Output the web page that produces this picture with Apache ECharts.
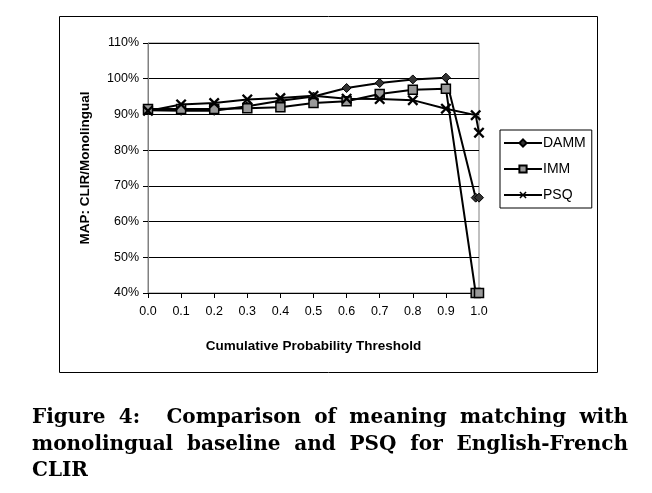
<!DOCTYPE html>
<html>
<head>
<meta charset="utf-8">
<script src="https://cdn.jsdelivr.net/npm/echarts@6/dist/echarts.min.js"></script>
<style>
  html, body { margin: 0; padding: 0; background: #fff; }
  #wrap { position: relative; width: 652px; height: 493px; }
  #chart { position: absolute; left: 0; top: 0; width: 652px; height: 493px; }
  #caption {
    position: absolute; left: 32px; top: 403px; width: 596px;
    font-family: "DejaVu Serif", serif; font-weight: bold; font-size: 20px;
    line-height: 26.5px; color: #000;
  }
  #caption .j { display: block; text-align: justify; text-align-last: justify; white-space: nowrap; }
  #caption .l { display: block; text-align: left; }
</style>
</head>
<body>
<div id="wrap">
  <div id="chart"></div>
  <div id="caption"><span class="j">Figure 4:&nbsp; Comparison of meaning matching with</span><span class="j">monolingual baseline and PSQ for English-French</span><span class="l">CLIR</span></div>
</div>
<script>
const thresholds = [0.0, 0.1, 0.2, 0.3, 0.4, 0.5, 0.6, 0.7, 0.8, 0.9, 0.99, 1.0];
const damm = [91.2, 91.0, 91.0, 92.3, 93.8, 95.0, 97.4, 98.8, 99.8, 100.3, 66.7, 66.7];
const imm  = [91.5, 91.5, 91.5, 91.7, 92.0, 93.2, 93.7, 95.7, 96.9, 97.2, 40.0, 40.0];
const psq  = [91.0, 92.8, 93.2, 94.2, 94.6, 95.2, 94.4, 94.3, 94.0, 91.6, 89.8, 84.9];
const seriesNames = ['DAMM', 'IMM', 'PSQ'];
const xTickLabels = ['0.0','0.1','0.2','0.3','0.4','0.5','0.6','0.7','0.8','0.9','1.0'];

const pairs = arr => thresholds.map((x, i) => [x, arr[i]]);
const xPath = 'path://M0,1.5L1.5,0L5,3.5L8.5,0L10,1.5L6.5,5L10,8.5L8.5,10L5,6.5L1.5,10L0,8.5L3.5,5Z';

const chart = echarts.init(document.getElementById('chart'), null, {renderer: 'canvas'});
const font = '"Liberation Sans", Arial, sans-serif';
chart.setOption({
  animation: false,
  backgroundColor: '#fff',
  grid: { left: 148, right: 173, top: 43, bottom: 200, show: true, borderColor: '#808080', borderWidth: 1 },
  graphic: [{
    type: 'rect', shape: { x: 59.5, y: 16.5, width: 538, height: 356 },
    style: { fill: 'none', stroke: '#000', lineWidth: 1 }, z: -1
  }],
  legend: {
    orient: 'vertical', left: 500, top: 130,
    itemWidth: 38, itemHeight: 9, itemGap: 12,
    borderColor: '#000', borderWidth: 1, padding: [6, 6, 6, 3],
    textStyle: { fontFamily: font, fontSize: 14, color: '#000', padding: [0, 0, 0, -4] },
    data: seriesNames
  },
  xAxis: {
    type: 'value', min: 0, max: 1, interval: 0.1,
    name: 'Cumulative Probability Threshold', nameLocation: 'middle', nameGap: 46,
    nameTextStyle: { fontFamily: font, fontSize: 13.5, fontWeight: 'bold', color: '#000' },
    axisLine: { show: true, lineStyle: { color: '#000', width: 1 } },
    axisTick: { show: true, inside: false, length: 5, lineStyle: { color: '#000' } },
    axisLabel: { fontFamily: font, fontSize: 12.5, color: '#000', margin: 12,
      formatter: v => xTickLabels[Math.round(v * 10)] },
    splitLine: { show: false }
  },
  yAxis: {
    type: 'value', min: 40, max: 110, interval: 10,
    name: 'MAP: CLIR/Monolingual', nameLocation: 'middle', nameGap: 56,
    nameTextStyle: { fontFamily: font, fontSize: 13.5, fontWeight: 'bold', color: '#000' },
    axisLine: { show: true, lineStyle: { color: '#808080', width: 1 } },
    axisTick: { show: true, inside: false, length: 5, lineStyle: { color: '#000' } },
    axisLabel: { fontFamily: font, fontSize: 12.5, color: '#000', margin: 9, formatter: '{value}%' },
    splitLine: { show: true, lineStyle: { color: '#000', width: 1 } }
  },
  series: [
    { name: 'DAMM', type: 'line', data: pairs(damm), symbol: 'diamond', symbolSize: 9,
      showAllSymbol: true,
      lineStyle: { color: '#000', width: 2 },
      itemStyle: { color: '#333', borderColor: '#000', borderWidth: 1 } },
    { name: 'IMM', type: 'line', data: pairs(imm), symbol: 'rect', symbolSize: 9,
      showAllSymbol: true,
      lineStyle: { color: '#000', width: 2 },
      itemStyle: { color: '#999', borderColor: '#000', borderWidth: 1.5 } },
    { name: 'PSQ', type: 'line', data: pairs(psq), symbol: xPath, symbolSize: 11,
      showAllSymbol: true,
      lineStyle: { color: '#000', width: 2 },
      itemStyle: { color: '#000', borderColor: '#000', borderWidth: 0 } }
  ]
});
</script>
</body>
</html>
